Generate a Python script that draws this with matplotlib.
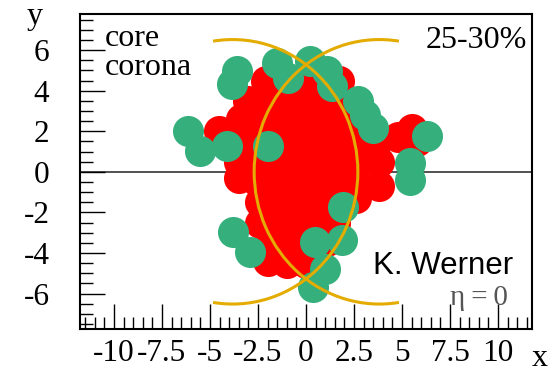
import matplotlib
matplotlib.use("Agg")
import matplotlib.pyplot as plt
from matplotlib.patches import Arc
from matplotlib.ticker import MultipleLocator, FixedLocator

plt.rcParams['font.family'] = ['Liberation Serif', 'DejaVu Serif']
plt.rcParams['axes.unicode_minus'] = False

# Core (red) cluster positions in the transverse plane
core_x = [-2.1, -1.1, -0.1, 0.9, 1.7,
          -3.0, -2.0, -1.0, 0.0, 1.0, 2.0,
          -4.55, -3.4, -2.4, -1.4, -0.4, 0.6, 1.6, 2.6,
          -3.5, -2.5, -1.5, -0.5, 0.5, 1.5, 2.6, 3.7, 4.8, 5.5, 5.8,
          -3.5, -2.5, -1.5, -0.5, 0.5, 1.5, 2.6, 3.8,
          -3.5, -2.5, -1.5, -0.5, 0.5, 1.5, 2.6, 3.8,
          -2.4, -1.5, -0.5, 0.5, 1.5, 2.6,
          -2.4, -1.4, -0.4, 0.6, 1.5,
          -1.8, -0.8, 0.2, 1.1,
          -2.0, -1.0, 0.0]
core_y = [4.5, 4.5, 4.5, 4.5, 4.5,
          3.5, 3.5, 3.5, 3.5, 3.5, 3.5,
          2.0, 2.6, 2.5, 2.5, 2.5, 2.5, 2.5, 2.5,
          1.5, 1.5, 1.5, 1.5, 1.5, 1.5, 1.5, 1.5, 1.7, 2.1, 1.5,
          0.5, 0.5, 0.5, 0.5, 0.5, 0.5, 0.5, 0.5,
          -0.3, -0.5, -0.5, -0.5, -0.5, -0.5, -0.5, -0.7,
          -1.5, -1.5, -1.5, -1.5, -1.5, -1.3,
          -2.5, -2.5, -2.5, -2.5, -2.5,
          -3.5, -3.5, -3.5, -3.4,
          -4.4, -4.5, -4.5]

# Corona (green) string segments
corona_x = [-3.61, -3.87, -1.53, -0.92, 0.21, 1.08, 1.34, 2.73, 3.07, 3.51,
            6.28, 5.42, 5.42, -6.13, -5.52, -4.13, -1.96, 1.94, -3.78, -2.92,
            0.47, 1.86, 0.99, 0.38]
corona_y = [4.97, 4.31, 5.38, 4.64, 5.46, 4.97, 4.22, 3.48, 2.82, 2.16,
            1.75, 0.43, -0.40, 2.00, 1.01, 1.25, 1.25, -1.72, -2.95, -3.94,
            -3.45, -3.37, -4.77, -5.68]

# Nuclear outlines: centres at +-b/2, radius R
nucleus_centers = [-3.82, 3.82]
nucleus_radius = 6.52
arc_angles = [(-99, 99), (81, 279)]

x_ticks = [-10, -7.5, -5, -2.5, 0, 2.5, 5, 7.5, 10]
x_ticklabels = ['-10', '-7.5', '-5', '-2.5', '0', '2.5', '5', '7.5', '10']
y_ticks = [-6, -4, -2, 0, 2, 4, 6]
y_ticklabels = ['-6', '-4', '-2', '0', '2', '4', '6']

fig = plt.figure(figsize=(5.51, 3.75), dpi=100)
ax = fig.add_axes([80 / 551, 46 / 375, 452 / 551, 315 / 375])
ax.set_xlim(-11.77, 11.77)
ax.set_ylim(-7.75, 7.78)

ax.axhline(0, color='#333333', lw=1.2, zorder=1)

marker_area = 500
ax.scatter(core_x, core_y, s=marker_area, c='#FF0000', linewidths=0, zorder=2)
ax.scatter(corona_x, corona_y, s=marker_area, c='#35B07D', linewidths=0, zorder=3)

for xc, (t1, t2) in zip(nucleus_centers, arc_angles):
    ax.add_patch(Arc((xc, 0), 2 * nucleus_radius, 2 * nucleus_radius,
                     theta1=t1, theta2=t2, color='#E4AC00', lw=2.2, zorder=4))

ax.xaxis.set_major_locator(FixedLocator(x_ticks))
ax.set_xticklabels(x_ticklabels)
ax.yaxis.set_major_locator(FixedLocator(y_ticks))
ax.set_yticklabels(y_ticklabels)
ax.xaxis.set_minor_locator(MultipleLocator(0.5))
ax.yaxis.set_minor_locator(MultipleLocator(0.5))
ax.tick_params(which='both', direction='in', top=False, right=False,
               width=1.0, color='black', labelsize=22.5)
ax.tick_params(which='major', length=18)
ax.tick_params(which='minor', length=9)
ax.tick_params(axis='x', which='major', pad=7)
ax.tick_params(axis='y', which='major', pad=22)

for sp in ax.spines.values():
    sp.set_linewidth(1.5)
    sp.set_color('black')

ax.text(-10.47, 6.22, 'core', fontsize=23, ha='left', va='baseline')
ax.text(-10.47, 4.75, 'corona', fontsize=23, ha='left', va='baseline')
ax.text(11.51, 6.12, '25-30%', fontsize=23, ha='right', va='baseline')
ax.text(3.49, -5.04, 'K. Werner', fontsize=22.5, ha='left', va='baseline',
        family=['Liberation Sans', 'DejaVu Sans'])
ax.text(7.5, -6.55, '\u03b7\u2009=\u20090', fontsize=21, ha='left', va='baseline',
        color='#555555', family=['Liberation Serif', 'DejaVu Serif'])

fig.text(27 / 551, 1 - 24 / 375, 'y', fontsize=23, ha='left', va='baseline')
fig.text(532 / 551, 9 / 375, 'x', fontsize=23, ha='left', va='baseline')

fig.savefig('out.png', dpi=100)
